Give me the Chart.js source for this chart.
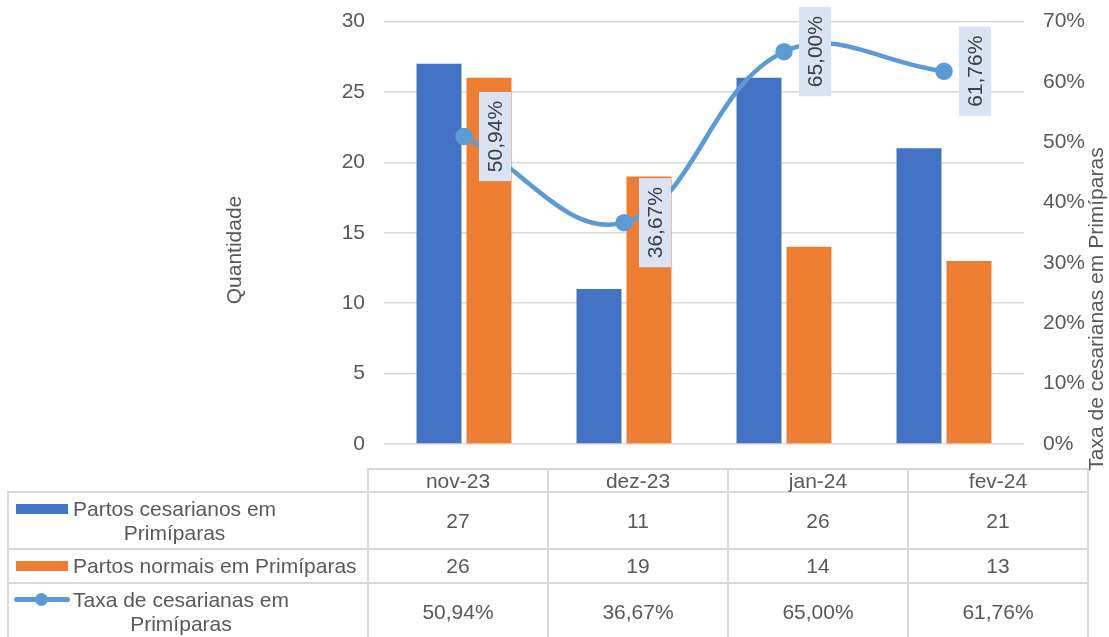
<!DOCTYPE html>
<html>
<head>
<meta charset="utf-8">
<title>Partos em Primíparas</title>
<script src="https://cdn.jsdelivr.net/npm/chart.js@4"></script>
<style>
    body { margin: 0; background: #fff; font-family: 'Liberation Sans', Arial, sans-serif; }
    #wrap { position: relative; width: 1109px; height: 637px; overflow: hidden; }
    #chart { position: absolute; left: 0; top: 0; }
    .rule { position: absolute; background: #D9D9D9; }
    .cell { position: absolute; box-sizing: border-box; color: #595959; font-size: 21px; line-height: 24px;
            display: flex; align-items: center; justify-content: center; text-align: center; }
    .name { position: absolute; box-sizing: border-box; color: #595959; font-size: 21px; line-height: 24px;
            display: flex; align-items: flex-start; }
    .name .txt { text-align: center; }
    .swatch { position: absolute; }
</style>
</head>
<body>
<div id="wrap">
    <canvas id="chart" width="1109" height="637"></canvas>
    <div id="table"></div>
</div>
<script>
// Data
const categories = ['nov-23', 'dez-23', 'jan-24', 'fev-24'];
const cesarianos = [27, 11, 26, 21];
const normais = [26, 19, 14, 13];
const taxa = [50.94, 36.67, 65.00, 61.76];

const nameCesarianos = 'Partos cesarianos em Primíparas';
const nameNormais = 'Partos normais em Primíparas';
const nameTaxa = 'Taxa de cesarianas em Primíparas';
const titleLeft = 'Quantidade';
const titleRight = 'Taxa de cesarianas em Primíparas';

const BLUE = '#4472C4';
const ORANGE = '#ED7D31';
const LINE = '#5B9BD5';
const GREY = '#595959';
const FONT = "'Liberation Sans', Arial, sans-serif";

function fmtPct(v) {
    return v.toFixed(2).replace('.', ',') + '%';
}

// Data labels on the rate line (rotated, with a light box)
const taxaLabels = {
    id: 'taxaLabels',
    afterDatasetsDraw(chart) {
        const meta = chart.getDatasetMeta(2);
        const ctx = chart.ctx;
        meta.data.forEach((pt, i) => {
            const txt = fmtPct(taxa[i]);
            ctx.save();
            ctx.font = '21px ' + FONT;
            const w = ctx.measureText(txt).width;
            const boxW = 32, boxH = w + 18;
            const x0 = pt.x + 15;
            ctx.fillStyle = '#DAE3F3';
            ctx.fillRect(x0, pt.y - boxH / 2, boxW, boxH);
            ctx.translate(x0 + boxW / 2, pt.y);
            ctx.rotate(-Math.PI / 2);
            ctx.fillStyle = '#404040';
            ctx.textAlign = 'center';
            ctx.textBaseline = 'middle';
            ctx.fillText(txt, 0, 1);
            ctx.restore();
        });
    }
};

// Axis titles (placed like the original, not centred on the plot)
const axisTitles = {
    id: 'axisTitles',
    afterDraw(chart) {
        const ctx = chart.ctx;
        const items = [[titleLeft, 235, 250], [titleRight, 1097, 309]];
        items.forEach(([txt, x, y]) => {
            ctx.save();
            ctx.font = '21px ' + FONT;
            ctx.fillStyle = GREY;
            ctx.translate(x, y);
            ctx.rotate(-Math.PI / 2);
            ctx.textAlign = 'center';
            ctx.textBaseline = 'middle';
            ctx.fillText(txt, 0, 0);
            ctx.restore();
        });
    }
};

const ctx = document.getElementById('chart').getContext('2d');
new Chart(ctx, {
    data: {
        labels: categories,
        datasets: [
            {
                type: 'bar',
                label: nameCesarianos,
                data: cesarianos,
                backgroundColor: BLUE,
                yAxisID: 'y',
                order: 1,
                categoryPercentage: 0.625,
                barPercentage: 0.9
            },
            {
                type: 'bar',
                label: nameNormais,
                data: normais,
                backgroundColor: ORANGE,
                yAxisID: 'y',
                order: 1,
                categoryPercentage: 0.625,
                barPercentage: 0.9
            },
            {
                type: 'line',
                label: nameTaxa,
                data: taxa,
                borderColor: LINE,
                backgroundColor: LINE,
                borderWidth: 4.5,
                pointRadius: 6.5,
                pointBackgroundColor: LINE,
                pointBorderColor: LINE,
                tension: 0.4,
                yAxisID: 'y1',
                order: 0
            }
        ]
    },
    options: {
        responsive: false,
        animation: false,
        layout: { padding: { top: 21.5, bottom: 193, left: 0, right: 0 } },
        plugins: {
            legend: { display: false },
            tooltip: { enabled: false }
        },
        scales: {
            x: {
                display: false
            },
            y: {
                position: 'left',
                min: 0,
                max: 30,
                ticks: { stepSize: 5, color: GREY, font: { size: 21, family: FONT }, padding: 19 },
                grid: { color: '#D9D9D9', lineWidth: 1.5, drawTicks: false },
                border: { display: false },
                afterFit(scale) {
                    scale.width = 384;
                    scale.paddingTop = 10;
                    scale.paddingBottom = 10;
                }
            },
            y1: {
                position: 'right',
                min: 0,
                max: 70,
                ticks: {
                    stepSize: 10, color: GREY, font: { size: 21, family: FONT }, padding: 19,
                    callback: v => v + '%'
                },
                grid: { display: false, drawTicks: false },
                border: { display: false },
                afterFit(scale) {
                    scale.width = 85;
                    scale.paddingTop = 10;
                    scale.paddingBottom = 10;
                }
            }
        }
    },
    plugins: [taxaLabels, axisTitles]
});

// Data table under the chart
const table = document.getElementById('table');
const colX = [368, 548, 728, 908, 1088];
const rowY = [469, 492, 549, 583, 640];

function addRule(x, y, w, h) {
    const d = document.createElement('div');
    d.className = 'rule';
    d.style.left = x + 'px'; d.style.top = y + 'px';
    d.style.width = w + 'px'; d.style.height = h + 'px';
    table.appendChild(d);
}
function addCell(text, x0, x1, y0, y1) {
    const d = document.createElement('div');
    d.className = 'cell';
    d.style.left = x0 + 'px'; d.style.top = y0 + 'px';
    d.style.width = (x1 - x0) + 'px'; d.style.height = (y1 - y0) + 'px';
    d.textContent = text;
    table.appendChild(d);
}

// grid lines
addRule(colX[0] - 1, rowY[0] - 1, colX[4] - colX[0] + 2, 2);
for (let r = 1; r < 4; r++) addRule(7, rowY[r] - 1, colX[4] - 7 + 1, 2);
addRule(7, rowY[1] - 1, 2, 637 - rowY[1] + 1);
colX.forEach(x => addRule(x - 1, rowY[0] - 1, 2, 637 - rowY[0] + 1));

// header
categories.forEach((c, i) => addCell(c, colX[i], colX[i + 1], rowY[0], rowY[1]));

// values
const rows = [
    cesarianos.map(String),
    normais.map(String),
    taxa.map(fmtPct)
];
rows.forEach((vals, r) => {
    vals.forEach((v, i) => addCell(v, colX[i], colX[i + 1], rowY[r + 1], rowY[r + 2]));
});

// series names with legend keys
const names = [
    ['Partos cesarianos em<br>Primíparas', 'bar', BLUE],
    [nameNormais, 'bar', ORANGE],
    ['Taxa de cesarianas em<br>Primíparas', 'line', LINE]
];
names.forEach(([html, kind, color], r) => {
    const y0 = rowY[r + 1];
    const y1 = rowY[r + 2];
    const lines = html.includes('<br>') ? 2 : 1;
    const top = y0 + ((y1 - y0) - lines * 24) / 2;
    const d = document.createElement('div');
    d.className = 'name';
    d.style.left = '73px'; d.style.top = top + 'px';
    d.innerHTML = '<div class="txt">' + html + '</div>';
    table.appendChild(d);

    const midY = top + 12;
    if (kind === 'bar') {
        const s = document.createElement('div');
        s.className = 'swatch';
        s.style.left = '16px'; s.style.top = (midY - 5) + 'px';
        s.style.width = '52px'; s.style.height = '10px';
        s.style.background = color;
        table.appendChild(s);
    } else {
        const l = document.createElement('div');
        l.className = 'swatch';
        l.style.left = '14px'; l.style.top = (midY - 2.5) + 'px';
        l.style.width = '56px'; l.style.height = '5px';
        l.style.borderRadius = '3px';
        l.style.background = color;
        table.appendChild(l);
        const p = document.createElement('div');
        p.className = 'swatch';
        p.style.left = '34.5px'; p.style.top = (midY - 6.5) + 'px';
        p.style.width = '13px'; p.style.height = '13px';
        p.style.borderRadius = '50%';
        p.style.background = color;
        table.appendChild(p);
    }
});
</script>
</body>
</html>
